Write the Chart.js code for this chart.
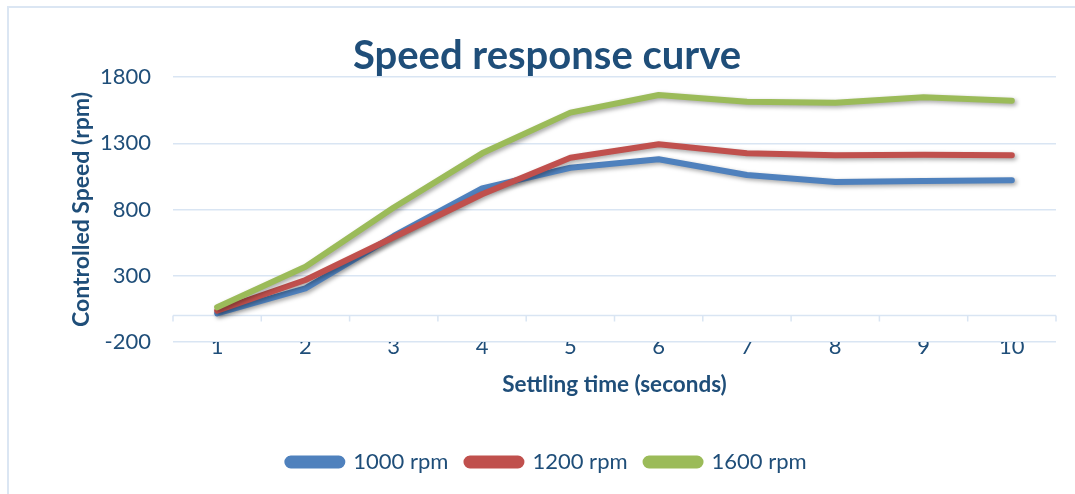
<!DOCTYPE html>
<html>
<head>
<meta charset="utf-8">
<script src="https://cdn.jsdelivr.net/npm/chart.js@4.4.1/dist/chart.umd.min.js"></script>
<style>
  html, body { margin: 0; padding: 0; background: #fff; overflow: hidden; }
  #wrap { position: relative; width: 1075px; height: 494px; }
  #frame {
    position: absolute; left: 7px; top: 6px; right: -2px; bottom: -2px;
    border-left: 2px solid #dbe6f3; border-top: 2px solid #dbe6f3;
    pointer-events: none;
  }
  canvas { position: absolute; left: 0; top: 0; }
</style>
</head>
<body>
<div id="wrap">
  <canvas id="chart" width="1075" height="494"></canvas>
  <div id="frame"></div>
</div>
<script>
// data
const seconds = ["1", "2", "3", "4", "5", "6", "7", "8", "9", "10"];
const rpm1000 = [16, 205, 600, 960, 1115, 1179, 1060, 1008, 1015, 1020];
const rpm1200 = [36, 268, 590, 915, 1191, 1292, 1224, 1209, 1214, 1209];
const rpm1600 = [62, 368, 815, 1224, 1531, 1664, 1614, 1606, 1647, 1621];
const seriesNames = ["1000 rpm", "1200 rpm", "1600 rpm"];
const yTicks = [-200, 300, 800, 1300, 1800];

const navy = "#1f4e79";
const gridBlue = "#d9e5f3";
const font = "Lato, 'Open Sans', sans-serif";

// soft drop shadow under each line, like the office chart
const lineShadow = {
  id: "lineShadow",
  beforeDatasetDraw(chart) {
    const ctx = chart.ctx;
    ctx.save();
    ctx.shadowColor = "rgba(0,0,0,0.35)";
    ctx.shadowBlur = 4;
    ctx.shadowOffsetX = 2;
    ctx.shadowOffsetY = 2;
  },
  afterDatasetDraw(chart) {
    chart.ctx.restore();
  }
};

// horizontal axis crosses at zero, with small tick marks between categories
const zeroAxis = {
  id: "zeroAxis",
  beforeDatasetsDraw(chart) {
    const { ctx, chartArea, scales } = chart;
    const y0 = scales.y.getPixelForValue(0);
    const step = scales.x.getPixelForValue(1) - scales.x.getPixelForValue(0);
    ctx.save();
    ctx.strokeStyle = gridBlue;
    ctx.lineWidth = 1.5;
    ctx.beginPath();
    ctx.moveTo(chartArea.left, y0);
    ctx.lineTo(chartArea.right, y0);
    for (let i = 0; i <= seconds.length; i++) {
      const x = scales.x.getPixelForValue(i) - step / 2;
      ctx.moveTo(x, y0);
      ctx.lineTo(x, y0 + 6);
    }
    ctx.stroke();
    ctx.restore();
  }
};

const colors = ["#4f81bd", "#c0504d", "#9bbb59"];
const values = [rpm1000, rpm1200, rpm1600];

new Chart(document.getElementById("chart"), {
  type: "line",
  data: {
    labels: seconds,
    datasets: values.map((v, i) => ({
      label: seriesNames[i],
      data: v,
      borderColor: colors[i],
      backgroundColor: colors[i],
      borderWidth: 6,
      borderCapStyle: "round",
      borderJoinStyle: "round",
      pointRadius: 0,
      tension: 0,
      order: 3 - i
    }))
  },
  options: {
    responsive: false,
    animation: false,
    layout: { padding: { left: 38, right: 19, top: 32, bottom: 11 } },
    plugins: {
      title: {
        display: true,
        text: "Speed response curve",
        color: navy,
        font: { family: font, size: 40, weight: "bold" },
        padding: { top: 0, bottom: -3 }
      },
      legend: {
        position: "bottom",
        labels: {
          sort: (a, b) => a.datasetIndex - b.datasetIndex,
          color: navy,
          font: { family: font, size: 22 },
          boxWidth: 55,
          boxHeight: 7,
          useBorderRadius: true,
          borderRadius: 3.5,
          padding: 18
        }
      },
      tooltip: { enabled: false }
    },
    scales: {
      x: {
        offset: true,
        afterFit: (scale) => { scale.height = 91; },
        grid: { display: false, drawTicks: false },
        border: { display: false },
        ticks: { color: navy, font: { family: font, size: 22 }, padding: -8 },
        title: {
          display: true,
          text: "Settling time (seconds)",
          color: navy,
          font: { family: font, size: 22.5, weight: "bold" },
          padding: { top: 6, bottom: 34.5 }
        }
      },
      y: {
        min: -200,
        max: 1800,
        afterBuildTicks: (scale) => { scale.ticks = yTicks.map(v => ({ value: v })); },
        afterFit: (scale) => { scale.width = 135; },
        grid: { color: gridBlue, lineWidth: 1.5, drawTicks: false },
        border: { display: false },
        ticks: {
          color: navy,
          font: { family: font, size: 22 },
          padding: 22,
          callback: (v) => String(v)
        },
        title: {
          display: true,
          text: "Controlled Speed (rpm)",
          color: navy,
          font: { family: font, size: 23, weight: "bold" },
          padding: { top: 30, bottom: 4 }
        }
      }
    }
  },
  plugins: [lineShadow, zeroAxis]
});
</script>
</body>
</html>
